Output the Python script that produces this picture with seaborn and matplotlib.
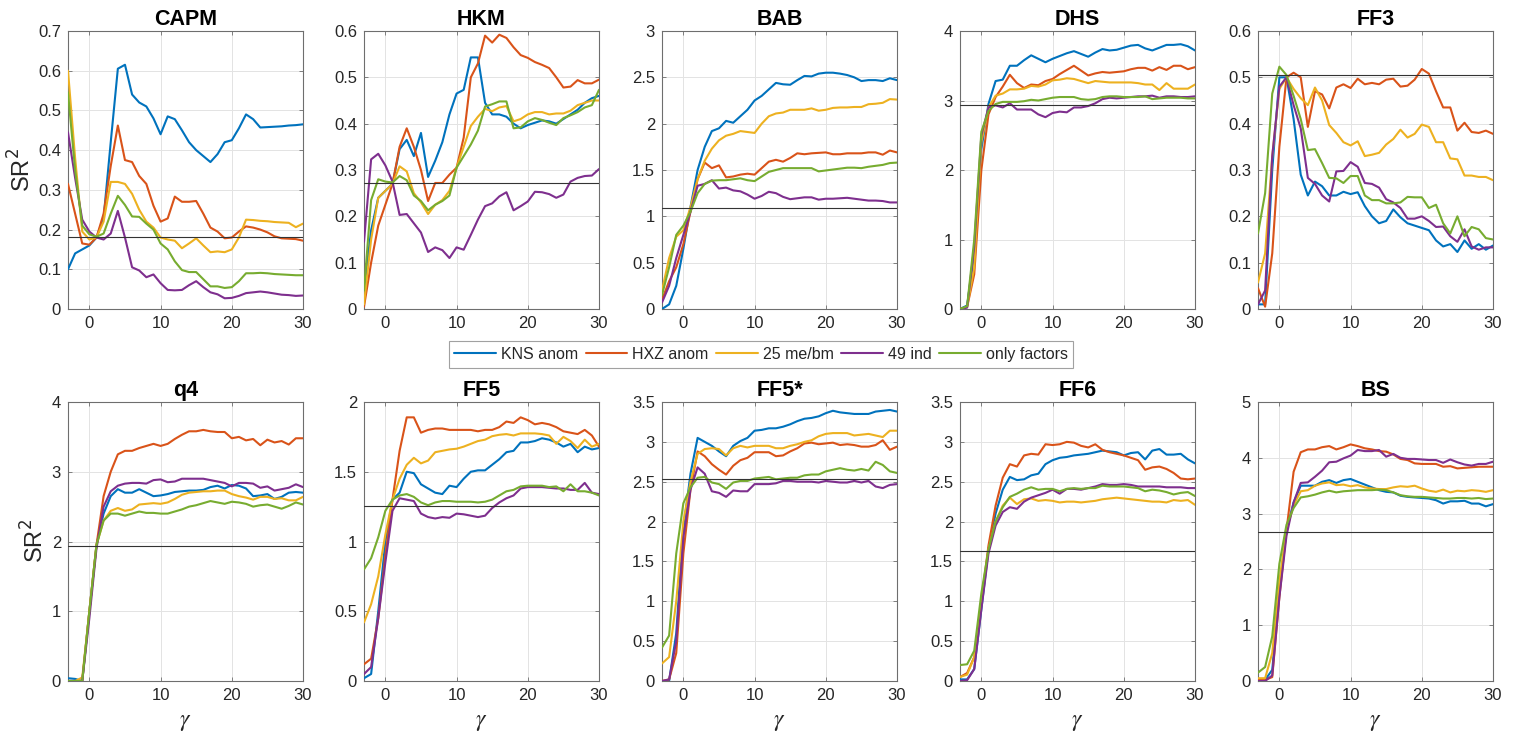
import matplotlib
matplotlib.use("Agg")
import numpy as np
import pandas as pd
import matplotlib.pyplot as plt
import seaborn as sns
from matplotlib.lines import Line2D
from matplotlib.ticker import FuncFormatter, MultipleLocator

# ---------------------------------------------------------------- data
gamma = list(range(-3, 31))
series_names = ["KNS anom", "HXZ anom", "25 me/bm", "49 ind", "only factors"]
series_colors = ["#0072BD", "#D95319", "#EDB120", "#7E2F8E", "#77AC30"]

# CAPM
capm_kns = [0.10, 0.14, 0.15, 0.16, 0.18, 0.23, 0.42, 0.605, 0.615, 0.54, 0.52, 0.51, 0.48, 0.44, 0.485, 0.478, 0.45,
            0.42, 0.40, 0.385, 0.37, 0.39, 0.42, 0.425, 0.455, 0.49, 0.478, 0.457, 0.458, 0.459, 0.46, 0.462, 0.463, 0.465]
capm_hxz = [0.315, 0.24, 0.165, 0.162, 0.18, 0.24, 0.36, 0.462, 0.375, 0.37, 0.335, 0.315, 0.26, 0.22, 0.228, 0.283, 0.27,
            0.27, 0.272, 0.24, 0.205, 0.195, 0.178, 0.18, 0.195, 0.208, 0.205, 0.20, 0.193, 0.183, 0.178, 0.177, 0.176, 0.172]
capm_mebm = [0.60, 0.38, 0.195, 0.175, 0.18, 0.22, 0.32, 0.32, 0.315, 0.29, 0.25, 0.22, 0.205, 0.18, 0.175, 0.172, 0.153,
             0.165, 0.178, 0.16, 0.143, 0.145, 0.143, 0.15, 0.18, 0.225, 0.224, 0.222, 0.221, 0.219, 0.218, 0.217, 0.206, 0.215]
capm_ind = [0.445, 0.33, 0.225, 0.195, 0.18, 0.175, 0.19, 0.247, 0.18, 0.105, 0.097, 0.08, 0.087, 0.065, 0.048, 0.047, 0.048,
            0.06, 0.07, 0.055, 0.042, 0.037, 0.027, 0.028, 0.033, 0.04, 0.042, 0.044, 0.042, 0.039, 0.036, 0.035, 0.033, 0.034]
capm_fac = [0.545, 0.35, 0.21, 0.188, 0.182, 0.19, 0.24, 0.285, 0.262, 0.233, 0.232, 0.215, 0.20, 0.165, 0.15, 0.12, 0.098,
            0.093, 0.093, 0.075, 0.057, 0.057, 0.053, 0.055, 0.07, 0.09, 0.09, 0.091, 0.09, 0.088, 0.087, 0.086, 0.085, 0.085]

# HKM
hkm_kns = [0.04, 0.17, 0.24, 0.255, 0.27, 0.345, 0.365, 0.33, 0.38, 0.285, 0.32, 0.36, 0.42, 0.465, 0.473, 0.543, 0.543,
           0.445, 0.42, 0.42, 0.415, 0.40, 0.39, 0.397, 0.402, 0.407, 0.405, 0.40, 0.41, 0.42, 0.43, 0.445, 0.455, 0.46]
hkm_hxz = [0.005, 0.10, 0.18, 0.225, 0.27, 0.35, 0.39, 0.35, 0.30, 0.233, 0.272, 0.272, 0.29, 0.305, 0.37, 0.50, 0.53,
           0.59, 0.575, 0.592, 0.585, 0.565, 0.548, 0.542, 0.533, 0.527, 0.52, 0.50, 0.478, 0.48, 0.494, 0.487, 0.487, 0.495]
hkm_mebm = [0.01, 0.15, 0.24, 0.255, 0.27, 0.308, 0.297, 0.25, 0.23, 0.205, 0.225, 0.235, 0.255, 0.305, 0.35, 0.395, 0.415,
            0.432, 0.427, 0.435, 0.438, 0.405, 0.41, 0.42, 0.425, 0.425, 0.42, 0.422, 0.422, 0.428, 0.44, 0.445, 0.45, 0.45]
hkm_ind = [0.145, 0.323, 0.335, 0.31, 0.275, 0.203, 0.205, 0.185, 0.165, 0.123, 0.133, 0.127, 0.11, 0.133, 0.128, 0.16, 0.193,
           0.222, 0.228, 0.243, 0.252, 0.213, 0.222, 0.232, 0.253, 0.252, 0.248, 0.24, 0.247, 0.275, 0.283, 0.287, 0.288, 0.302]
hkm_fac = [0.04, 0.235, 0.28, 0.275, 0.273, 0.287, 0.278, 0.245, 0.233, 0.213, 0.225, 0.233, 0.245, 0.305, 0.33, 0.355, 0.385,
           0.437, 0.442, 0.448, 0.448, 0.39, 0.392, 0.405, 0.412, 0.408, 0.402, 0.397, 0.412, 0.418, 0.425, 0.435, 0.44, 0.473]

# BAB
bab_kns = [0.0, 0.05, 0.25, 0.65, 1.10, 1.50, 1.75, 1.92, 1.95, 2.03, 2.01, 2.08, 2.15, 2.25, 2.30, 2.37, 2.44,
           2.425, 2.42, 2.47, 2.515, 2.51, 2.54, 2.55, 2.55, 2.54, 2.525, 2.50, 2.46, 2.47, 2.47, 2.46, 2.49, 2.47]
bab_hxz = [0.10, 0.30, 0.45, 0.70, 1.05, 1.40, 1.58, 1.52, 1.55, 1.42, 1.43, 1.45, 1.46, 1.45, 1.52, 1.59, 1.61,
           1.59, 1.63, 1.68, 1.67, 1.68, 1.685, 1.69, 1.67, 1.67, 1.68, 1.68, 1.68, 1.69, 1.69, 1.665, 1.71, 1.69]
bab_mebm = [0.20, 0.55, 0.78, 0.85, 1.10, 1.40, 1.60, 1.73, 1.82, 1.87, 1.89, 1.92, 1.91, 1.90, 2.00, 2.08, 2.11,
            2.12, 2.15, 2.15, 2.15, 2.165, 2.14, 2.15, 2.17, 2.175, 2.175, 2.18, 2.18, 2.21, 2.215, 2.225, 2.265, 2.26]
bab_ind = [0.07, 0.25, 0.55, 0.80, 1.05, 1.33, 1.35, 1.39, 1.30, 1.31, 1.28, 1.27, 1.235, 1.19, 1.22, 1.265, 1.25,
           1.21, 1.185, 1.195, 1.205, 1.205, 1.18, 1.19, 1.19, 1.195, 1.20, 1.19, 1.18, 1.17, 1.17, 1.165, 1.15, 1.15]
bab_fac = [0.15, 0.45, 0.80, 0.90, 1.05, 1.25, 1.35, 1.385, 1.39, 1.39, 1.40, 1.41, 1.39, 1.38, 1.43, 1.48, 1.50,
           1.52, 1.52, 1.52, 1.52, 1.52, 1.485, 1.495, 1.505, 1.515, 1.525, 1.525, 1.52, 1.535, 1.545, 1.555, 1.575, 1.58]

# DHS
dhs_kns = [0.0, 0.05, 0.80, 2.30, 2.95, 3.28, 3.30, 3.50, 3.50, 3.58, 3.65, 3.60, 3.55, 3.60, 3.64, 3.68, 3.71,
           3.67, 3.63, 3.69, 3.74, 3.72, 3.73, 3.76, 3.79, 3.80, 3.75, 3.72, 3.76, 3.80, 3.80, 3.81, 3.78, 3.72]
dhs_hxz = [0.0, 0.03, 0.50, 2.00, 2.80, 3.05, 3.20, 3.37, 3.25, 3.18, 3.23, 3.22, 3.28, 3.31, 3.38, 3.44, 3.50,
           3.43, 3.36, 3.39, 3.41, 3.40, 3.41, 3.42, 3.45, 3.47, 3.47, 3.43, 3.48, 3.44, 3.50, 3.50, 3.45, 3.48]
dhs_mebm = [0.0, 0.03, 0.60, 2.40, 2.90, 3.07, 3.10, 3.16, 3.16, 3.17, 3.21, 3.20, 3.23, 3.29, 3.30, 3.32, 3.31,
            3.28, 3.25, 3.28, 3.27, 3.26, 3.26, 3.26, 3.26, 3.25, 3.23, 3.23, 3.15, 3.25, 3.17, 3.17, 3.17, 3.23]
dhs_ind = [0.0, 0.02, 0.90, 2.50, 2.90, 2.93, 2.90, 2.96, 2.87, 2.87, 2.87, 2.80, 2.76, 2.82, 2.84, 2.83, 2.90,
           2.90, 2.92, 2.96, 3.02, 3.04, 3.03, 3.04, 3.05, 3.06, 3.06, 3.07, 3.04, 3.06, 3.06, 3.05, 3.05, 3.06]
dhs_fac = [0.0, 0.04, 1.00, 2.55, 2.85, 2.95, 2.98, 2.98, 2.98, 2.99, 3.01, 3.00, 3.02, 3.04, 3.05, 3.05, 3.05,
           3.02, 3.01, 3.02, 3.05, 3.06, 3.06, 3.05, 3.05, 3.05, 3.06, 3.02, 3.03, 3.04, 3.04, 3.04, 3.03, 3.03]

# FF3
ff3_kns = [0.01, 0.01, 0.30, 0.50, 0.50, 0.41, 0.29, 0.245, 0.275, 0.265, 0.245, 0.245, 0.253, 0.248, 0.252, 0.222, 0.20,
           0.185, 0.19, 0.215, 0.198, 0.185, 0.18, 0.175, 0.17, 0.148, 0.135, 0.14, 0.123, 0.148, 0.13, 0.14, 0.128, 0.137]
ff3_hxz = [0.045, 0.005, 0.12, 0.35, 0.50, 0.51, 0.50, 0.393, 0.47, 0.463, 0.433, 0.478, 0.485, 0.477, 0.497, 0.485, 0.488,
           0.485, 0.495, 0.497, 0.48, 0.482, 0.495, 0.518, 0.508, 0.47, 0.435, 0.435, 0.385, 0.402, 0.382, 0.38, 0.385, 0.378]
ff3_mebm = [0.057, 0.12, 0.33, 0.475, 0.50, 0.475, 0.455, 0.44, 0.478, 0.45, 0.397, 0.38, 0.36, 0.353, 0.362, 0.33, 0.333,
            0.337, 0.355, 0.367, 0.387, 0.37, 0.378, 0.398, 0.393, 0.36, 0.36, 0.325, 0.323, 0.288, 0.288, 0.285, 0.285, 0.278]
ff3_ind = [0.01, 0.04, 0.33, 0.48, 0.50, 0.44, 0.39, 0.283, 0.27, 0.245, 0.232, 0.297, 0.298, 0.317, 0.307, 0.272, 0.27,
           0.262, 0.237, 0.23, 0.218, 0.195, 0.195, 0.20, 0.19, 0.177, 0.178, 0.157, 0.145, 0.172, 0.135, 0.128, 0.133, 0.133]
ff3_fac = [0.163, 0.25, 0.465, 0.523, 0.505, 0.46, 0.41, 0.343, 0.345, 0.315, 0.283, 0.282, 0.272, 0.287, 0.287, 0.245, 0.235,
           0.235, 0.228, 0.228, 0.23, 0.242, 0.241, 0.241, 0.218, 0.225, 0.185, 0.163, 0.20, 0.157, 0.177, 0.172, 0.153, 0.15]

# q4
q4_kns = [0.04, 0.03, 0.0, 1.00, 1.95, 2.40, 2.65, 2.75, 2.70, 2.70, 2.75, 2.70, 2.65, 2.66, 2.68, 2.71, 2.72,
          2.73, 2.73, 2.74, 2.78, 2.80, 2.76, 2.81, 2.80, 2.76, 2.65, 2.66, 2.68, 2.61, 2.64, 2.70, 2.71, 2.70]
q4_hxz = [0.0, 0.0, 0.0, 1.00, 1.95, 2.65, 3.00, 3.25, 3.30, 3.30, 3.34, 3.37, 3.40, 3.37, 3.40, 3.47, 3.53,
          3.58, 3.58, 3.60, 3.58, 3.57, 3.57, 3.48, 3.50, 3.45, 3.47, 3.38, 3.46, 3.42, 3.44, 3.39, 3.48, 3.48]
q4_mebm = [0.0, 0.0, 0.05, 1.00, 1.95, 2.30, 2.44, 2.48, 2.44, 2.46, 2.53, 2.54, 2.55, 2.54, 2.56, 2.61, 2.67,
           2.70, 2.71, 2.72, 2.72, 2.73, 2.73, 2.68, 2.65, 2.63, 2.60, 2.64, 2.64, 2.61, 2.62, 2.59, 2.59, 2.64]
q4_ind = [0.0, 0.0, 0.0, 0.90, 1.90, 2.50, 2.72, 2.80, 2.83, 2.84, 2.84, 2.83, 2.88, 2.89, 2.85, 2.86, 2.90,
          2.90, 2.90, 2.90, 2.88, 2.86, 2.84, 2.79, 2.84, 2.84, 2.83, 2.77, 2.79, 2.73, 2.75, 2.77, 2.82, 2.78]
q4_fac = [0.0, 0.0, 0.0, 1.00, 1.95, 2.30, 2.40, 2.40, 2.37, 2.40, 2.43, 2.41, 2.41, 2.40, 2.40, 2.43, 2.46,
          2.50, 2.52, 2.55, 2.58, 2.56, 2.54, 2.57, 2.56, 2.54, 2.50, 2.52, 2.53, 2.50, 2.47, 2.51, 2.56, 2.53]

# FF5
ff5_kns = [0.02, 0.05, 0.50, 1.00, 1.30, 1.35, 1.50, 1.49, 1.41, 1.38, 1.35, 1.34, 1.40, 1.39, 1.45, 1.50, 1.51,
           1.51, 1.55, 1.59, 1.64, 1.65, 1.71, 1.71, 1.72, 1.74, 1.73, 1.71, 1.68, 1.70, 1.64, 1.68, 1.66, 1.67]
ff5_hxz = [0.12, 0.16, 0.45, 0.90, 1.30, 1.65, 1.89, 1.89, 1.78, 1.80, 1.81, 1.81, 1.80, 1.80, 1.80, 1.80, 1.79,
           1.80, 1.80, 1.82, 1.86, 1.85, 1.89, 1.87, 1.84, 1.85, 1.84, 1.82, 1.79, 1.78, 1.77, 1.80, 1.76, 1.68]
ff5_mebm = [0.42, 0.55, 0.75, 1.05, 1.30, 1.45, 1.55, 1.60, 1.56, 1.58, 1.64, 1.65, 1.66, 1.665, 1.68, 1.70, 1.72,
            1.73, 1.755, 1.765, 1.77, 1.76, 1.775, 1.775, 1.775, 1.77, 1.76, 1.70, 1.75, 1.72, 1.67, 1.73, 1.68, 1.70]
ff5_ind = [0.05, 0.10, 0.45, 0.85, 1.22, 1.31, 1.30, 1.29, 1.20, 1.175, 1.165, 1.175, 1.17, 1.20, 1.195, 1.185, 1.175,
           1.185, 1.24, 1.28, 1.31, 1.33, 1.38, 1.39, 1.39, 1.39, 1.385, 1.38, 1.38, 1.37, 1.37, 1.42, 1.35, 1.34]
ff5_fac = [0.80, 0.88, 1.03, 1.22, 1.30, 1.33, 1.34, 1.32, 1.28, 1.26, 1.28, 1.29, 1.29, 1.285, 1.285, 1.285, 1.28,
           1.285, 1.30, 1.33, 1.36, 1.37, 1.395, 1.40, 1.40, 1.40, 1.39, 1.395, 1.36, 1.41, 1.36, 1.36, 1.35, 1.33]

# FF5*
ff5s_kns = [0.0, 0.0, 0.60, 1.90, 2.60, 3.05, 3.00, 2.95, 2.88, 2.82, 2.95, 3.01, 3.05, 3.14, 3.15, 3.17, 3.17,
            3.19, 3.22, 3.26, 3.29, 3.30, 3.32, 3.36, 3.39, 3.37, 3.36, 3.35, 3.35, 3.35, 3.38, 3.39, 3.40, 3.38]
ff5s_hxz = [0.0, 0.02, 0.35, 1.60, 2.40, 2.88, 2.82, 2.72, 2.65, 2.59, 2.70, 2.77, 2.80, 2.87, 2.87, 2.87, 2.82,
            2.83, 2.88, 2.92, 2.98, 2.99, 2.97, 2.98, 2.99, 2.96, 2.97, 2.96, 2.94, 2.94, 2.96, 3.02, 2.90, 2.94]
ff5s_mebm = [0.22, 0.30, 1.00, 2.00, 2.50, 2.85, 2.91, 2.92, 2.91, 2.83, 2.92, 2.95, 2.93, 2.95, 2.95, 2.95, 2.92,
             2.92, 2.95, 2.97, 3.00, 3.02, 3.07, 3.10, 3.11, 3.11, 3.11, 3.08, 3.09, 3.10, 3.08, 3.06, 3.14, 3.14]
ff5s_ind = [0.0, 0.02, 0.50, 1.80, 2.40, 2.68, 2.60, 2.38, 2.36, 2.31, 2.39, 2.38, 2.38, 2.47, 2.47, 2.47, 2.48,
            2.51, 2.51, 2.50, 2.50, 2.50, 2.49, 2.51, 2.50, 2.49, 2.49, 2.51, 2.49, 2.51, 2.44, 2.42, 2.46, 2.47]
ff5s_fac = [0.42, 0.57, 1.60, 2.23, 2.43, 2.55, 2.56, 2.49, 2.47, 2.41, 2.49, 2.51, 2.51, 2.54, 2.55, 2.56, 2.53,
            2.54, 2.55, 2.55, 2.58, 2.59, 2.59, 2.63, 2.65, 2.67, 2.65, 2.64, 2.66, 2.64, 2.75, 2.71, 2.63, 2.61]

# FF6
ff6_kns = [0.02, 0.02, 0.15, 0.90, 1.65, 2.10, 2.40, 2.56, 2.52, 2.53, 2.58, 2.60, 2.72, 2.77, 2.80, 2.81, 2.83,
           2.84, 2.85, 2.87, 2.89, 2.88, 2.87, 2.83, 2.86, 2.87, 2.78, 2.89, 2.91, 2.84, 2.84, 2.85, 2.78, 2.73]
ff6_hxz = [0.05, 0.10, 0.30, 1.00, 1.70, 2.20, 2.55, 2.72, 2.69, 2.83, 2.85, 2.84, 2.97, 2.96, 2.97, 3.00, 2.99,
           2.95, 2.93, 2.97, 2.90, 2.87, 2.85, 2.83, 2.80, 2.77, 2.65, 2.68, 2.69, 2.66, 2.61, 2.54, 2.53, 2.54]
ff6_mebm = [0.05, 0.08, 0.30, 1.00, 1.65, 2.00, 2.20, 2.30, 2.22, 2.28, 2.29, 2.26, 2.27, 2.26, 2.24, 2.25, 2.25,
            2.24, 2.25, 2.26, 2.28, 2.29, 2.30, 2.29, 2.28, 2.27, 2.26, 2.25, 2.25, 2.24, 2.27, 2.26, 2.27, 2.21]
ff6_ind = [0.0, 0.01, 0.15, 0.90, 1.60, 1.95, 2.12, 2.18, 2.16, 2.25, 2.30, 2.33, 2.36, 2.40, 2.35, 2.41, 2.41,
           2.40, 2.42, 2.44, 2.47, 2.46, 2.46, 2.47, 2.46, 2.44, 2.44, 2.44, 2.44, 2.43, 2.43, 2.43, 2.42, 2.42]
ff6_fac = [0.20, 0.21, 0.38, 1.10, 1.65, 2.00, 2.18, 2.31, 2.35, 2.40, 2.43, 2.40, 2.41, 2.41, 2.38, 2.41, 2.42,
           2.41, 2.42, 2.42, 2.45, 2.44, 2.44, 2.44, 2.43, 2.42, 2.38, 2.40, 2.39, 2.37, 2.34, 2.36, 2.37, 2.32]

# BS
bs_kns = [0.0, 0.02, 0.20, 1.60, 2.70, 3.20, 3.50, 3.50, 3.50, 3.57, 3.60, 3.55, 3.60, 3.62, 3.57, 3.52, 3.47,
          3.42, 3.39, 3.38, 3.32, 3.30, 3.29, 3.28, 3.27, 3.24, 3.18, 3.22, 3.22, 3.23, 3.18, 3.18, 3.13, 3.17]
bs_hxz = [0.02, 0.02, 0.07, 1.50, 2.70, 3.75, 4.10, 4.15, 4.15, 4.19, 4.21, 4.15, 4.19, 4.24, 4.21, 4.17, 4.15,
          4.12, 4.11, 4.06, 3.98, 3.96, 3.90, 3.89, 3.89, 3.89, 3.84, 3.85, 3.81, 3.82, 3.83, 3.84, 3.84, 3.84]
bs_mebm = [0.05, 0.05, 0.50, 1.80, 2.70, 3.15, 3.40, 3.42, 3.50, 3.54, 3.56, 3.51, 3.52, 3.49, 3.51, 3.47, 3.45,
           3.44, 3.44, 3.47, 3.49, 3.48, 3.50, 3.45, 3.41, 3.39, 3.43, 3.38, 3.41, 3.40, 3.42, 3.41, 3.39, 3.42]
bs_ind = [0.0, 0.0, 0.10, 1.50, 2.60, 3.20, 3.55, 3.56, 3.66, 3.77, 3.92, 3.93, 3.99, 4.04, 4.14, 4.12, 4.12,
          4.14, 4.02, 4.07, 4.00, 3.98, 3.98, 3.97, 3.96, 3.96, 3.91, 3.97, 3.92, 3.88, 3.86, 3.89, 3.89, 3.93]
bs_fac = [0.15, 0.25, 0.80, 2.10, 2.80, 3.10, 3.29, 3.31, 3.34, 3.38, 3.41, 3.38, 3.40, 3.41, 3.42, 3.42, 3.42,
          3.43, 3.42, 3.38, 3.33, 3.31, 3.30, 3.30, 3.29, 3.28, 3.27, 3.27, 3.28, 3.28, 3.27, 3.28, 3.26, 3.27]

panel_titles = ["CAPM", "HKM", "BAB", "DHS", "FF3", "q4", "FF5", "FF5*", "FF6", "BS"]
panel_series = [
    [capm_kns, capm_hxz, capm_mebm, capm_ind, capm_fac],
    [hkm_kns, hkm_hxz, hkm_mebm, hkm_ind, hkm_fac],
    [bab_kns, bab_hxz, bab_mebm, bab_ind, bab_fac],
    [dhs_kns, dhs_hxz, dhs_mebm, dhs_ind, dhs_fac],
    [ff3_kns, ff3_hxz, ff3_mebm, ff3_ind, ff3_fac],
    [q4_kns, q4_hxz, q4_mebm, q4_ind, q4_fac],
    [ff5_kns, ff5_hxz, ff5_mebm, ff5_ind, ff5_fac],
    [ff5s_kns, ff5s_hxz, ff5s_mebm, ff5s_ind, ff5s_fac],
    [ff6_kns, ff6_hxz, ff6_mebm, ff6_ind, ff6_fac],
    [bs_kns, bs_hxz, bs_mebm, bs_ind, bs_fac],
]
# factor-model-only benchmark level for each panel
benchmark = [0.181, 0.273, 1.09, 2.93, 0.505, 1.93, 1.253, 2.53, 1.635, 2.676]
y_max = [0.7, 0.6, 3.0, 4.0, 0.6, 4.0, 2.0, 3.5, 3.5, 5.0]
y_step = [0.1, 0.1, 0.5, 1.0, 0.1, 1.0, 0.5, 0.5, 0.5, 1.0]

# ---------------------------------------------------------------- style
sns.set_theme(style="white")
plt.rcParams["font.family"] = ["Liberation Sans", "DejaVu Sans"]
plt.rcParams["axes.linewidth"] = 0.8

W, H = 1522, 740
fig = plt.figure(figsize=(W / 100, H / 100), dpi=100)

col_left = [68, 364, 662, 960, 1258]
ax_w = 235
row_top = [31, 402]
ax_h = [278, 279]

text_col = "#262626"
edge_col = "#6e6e6e"

palette = dict(zip(series_names, series_colors))

for i, title in enumerate(panel_titles):
    r, c = divmod(i, 5)
    x0 = col_left[c] / W
    y0 = 1 - (row_top[r] + ax_h[r]) / H
    ax = fig.add_axes([x0, y0, ax_w / W, ax_h[r] / H])

    frames = []
    for name, vals in zip(series_names, panel_series[i]):
        frames.append(pd.DataFrame({"gamma": gamma, "sr2": vals, "series": name}))
    df = pd.concat(frames, ignore_index=True)

    ax.grid(True, color="#e3e3e3", linewidth=0.7, zorder=0)
    sns.lineplot(data=df, x="gamma", y="sr2", hue="series", hue_order=series_names,
                 palette=palette, linewidth=1.5, legend=False, ax=ax, zorder=3)
    ax.axhline(benchmark[i], color="#333333", linewidth=0.8, zorder=4)

    ax.set_xlim(-3, 30)
    ax.set_ylim(0, y_max[i])
    ax.xaxis.set_major_locator(MultipleLocator(10))
    ax.yaxis.set_major_locator(MultipleLocator(y_step[i]))
    ax.yaxis.set_major_formatter(FuncFormatter(lambda v, p: f"{v:g}"))
    ax.tick_params(direction="in", length=3, width=0.6, color=edge_col,
                   labelsize=12, labelcolor=text_col, top=True, right=True,
                   bottom=True, left=True, pad=5)
    for sp in ax.spines.values():
        sp.set_color(edge_col)
        sp.set_linewidth(0.8)
    ax.set_title(title, fontsize=15.5, fontweight="bold", color="black", pad=4)

    ax.set_xlabel("")
    ax.set_ylabel("")
    if c == 0:
        ax.set_ylabel("SR$^2$", fontsize=17, color=text_col, labelpad=2)
    if r == 1:
        ax.set_xlabel(r"$\gamma$", fontsize=17, color=text_col,
                      math_fontfamily="stix", labelpad=6)

handles = [Line2D([0], [0], color=col, linewidth=1.5) for col in series_colors]
leg = fig.legend(handles, series_names, loc="center", bbox_to_anchor=(0.5, 1 - 354.5 / H),
                 ncol=5, fontsize=11.5, frameon=True, fancybox=False, handlelength=2.6,
                 handletextpad=0.3, columnspacing=0.5, borderpad=0.35)
leg.get_frame().set_edgecolor("#8a8a8a")
leg.get_frame().set_linewidth(0.8)
for t in leg.get_texts():
    t.set_color(text_col)

fig.savefig("out.png", dpi=100, facecolor="white")
